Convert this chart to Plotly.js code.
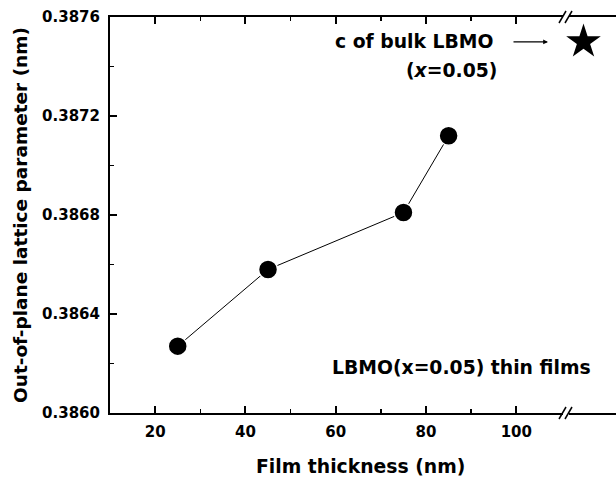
<!DOCTYPE html>
<html><head><meta charset="utf-8">
<script src="https://cdn.plot.ly/plotly-3.0.1.min.js"></script>
<style>html,body{margin:0;padding:0;background:#fff}</style>
</head><body><div id="chart" style="width:616px;height:480px"></div>
<script>
const thickness = [25, 45, 75, 85];
const latticeC = [0.38627, 0.38658, 0.38681, 0.38712];
const bulkCategory = ['bulk'];
const bulkC = [0.38750];
const xMajorTicks = [20, 40, 60, 80, 100];
const xMinorTicks = [30, 50, 70, 90];
const yTickVals = [0.3860, 0.3864, 0.3868, 0.3872, 0.3876];
const yTickText = ['0.3860', '0.3864', '0.3868', '0.3872', '0.3876'];

const FONT = 'DejaVu Sans, Liberation Sans, Arial, sans-serif';
const breakX = 456 / 506;

const films = {
  x: thickness, y: latticeC, xaxis: 'x', yaxis: 'y',
  mode: 'lines+markers', type: 'scatter', showlegend: false,
  line: {color: '#000', width: 1},
  marker: {symbol: 'circle', size: 19, color: '#000', line: {color: '#fff', width: 1.5}}
};
const bulk = {
  x: bulkCategory, y: bulkC, xaxis: 'x2', yaxis: 'y',
  mode: 'markers', type: 'scatter', showlegend: false,
  marker: {symbol: 'star', size: 26, color: '#000'}
};

function breakShapes(yAnchor) {
  return [
    {type: 'rect', xref: 'paper', yref: 'paper', xsizemode: 'pixel', ysizemode: 'pixel',
     xanchor: breakX, yanchor: yAnchor, x0: -3, x1: 3, y0: -2, y1: 2,
     fillcolor: '#fff', line: {width: 0}, layer: 'above'},
    {type: 'line', xref: 'paper', yref: 'paper', xsizemode: 'pixel', ysizemode: 'pixel',
     xanchor: breakX, yanchor: yAnchor, x0: -7, x1: 0, y0: -6, y1: 6,
     line: {color: '#000', width: 1.5}, layer: 'above'},
    {type: 'line', xref: 'paper', yref: 'paper', xsizemode: 'pixel', ysizemode: 'pixel',
     xanchor: breakX, yanchor: yAnchor, x0: -1, x1: 6, y0: -6, y1: 6,
     line: {color: '#000', width: 1.5}, layer: 'above'}
  ];
}

const annFont = {family: FONT, size: 18.8, color: '#000', weight: 'bold'};
const layout = {
  width: 616, height: 480,
  margin: {l: 110, r: 0, t: 17, b: 67},
  paper_bgcolor: '#fff', plot_bgcolor: '#fff',
  font: {family: FONT, size: 15, color: '#000', weight: 'bold'},
  xaxis: {
    domain: [0, breakX], range: [10, 111], anchor: 'y',
    tickmode: 'array', tickvals: xMajorTicks, ticktext: xMajorTicks.map(String),
    ticks: 'inside', ticklen: 7, tickwidth: 2, tickcolor: '#000',
    minor: {tickmode: 'array', tickvals: xMinorTicks, ticks: 'inside', ticklen: 4, tickwidth: 1.5, tickcolor: '#000'},
    showline: true, linewidth: 2, linecolor: '#000', mirror: 'allticks',
    showgrid: false, zeroline: false, ticklabelstandoff: 4,
    tickfont: {family: FONT, size: 15, color: '#000', weight: 'bold'}
  },
  xaxis2: {
    domain: [breakX, 1], type: 'category', range: [-0.35, 0.65], anchor: 'y',
    showticklabels: false, ticks: '', showline: true, linewidth: 2, linecolor: '#000',
    mirror: true, showgrid: false, zeroline: false
  },
  yaxis: {
    range: [0.3860, 0.3876], anchor: 'x',
    tickmode: 'array', tickvals: yTickVals, ticktext: yTickText,
    ticks: 'inside', ticklen: 7, tickwidth: 2, tickcolor: '#000',
    minor: {dtick: 0.0002, tick0: 0.386, ticks: 'inside', ticklen: 4, tickwidth: 1.5, tickcolor: '#000'},
    showline: true, linewidth: 2, linecolor: '#000',
    showgrid: false, zeroline: false, ticklabelstandoff: 5,
    tickfont: {family: FONT, size: 15, color: '#000', weight: 'bold'},
    title: {text: 'Out-of-plane lattice parameter (nm)', standoff: 10,
            font: {family: FONT, size: 18.5, color: '#000', weight: 'bold'}}
  },
  yaxis2: {
    range: [0.3860, 0.3876], overlaying: 'y', anchor: 'x2', side: 'right',
    tickmode: 'array', tickvals: yTickVals, showticklabels: false,
    ticks: 'inside', ticklen: 9, tickwidth: 2, tickcolor: '#000',
    minor: {dtick: 0.0002, tick0: 0.386, ticks: 'inside', ticklen: 4, tickwidth: 1.5, tickcolor: '#000'},
    showline: true, linewidth: 2, linecolor: '#000',
    showgrid: false, zeroline: false
  },
  shapes: breakShapes(0).concat(breakShapes(1)),
  annotations: [
    {text: 'Film thickness (nm)', xref: 'paper', yref: 'paper', x: 0.496, y: -0.136,
     xanchor: 'center', yanchor: 'middle', showarrow: false, font: annFont},
    {text: 'c of bulk LBMO', xref: 'paper', yref: 'paper', x: 0.601, y: 0.937,
     xanchor: 'center', yanchor: 'middle', showarrow: false, font: annFont},
    {text: '(<i>x</i>=0.05)', xref: 'paper', yref: 'paper', x: 0.675, y: 0.866,
     xanchor: 'center', yanchor: 'middle', showarrow: false, font: annFont},
    {text: '', xref: 'paper', yref: 'paper', x: 0.8656, y: 0.937,
     showarrow: true, ax: -36, ay: 0, arrowhead: 2, arrowsize: 0.8, arrowwidth: 1.2,
     arrowcolor: '#000', standoff: 0},
    {text: 'LBMO(x=0.05) thin films', xref: 'paper', yref: 'paper', x: 0.694, y: 0.116,
     xanchor: 'center', yanchor: 'middle', showarrow: false, font: annFont}
  ]
};

Plotly.newPlot('chart', [films, bulk], layout, {staticPlot: true, displayModeBar: false});
</script>
</body></html>
